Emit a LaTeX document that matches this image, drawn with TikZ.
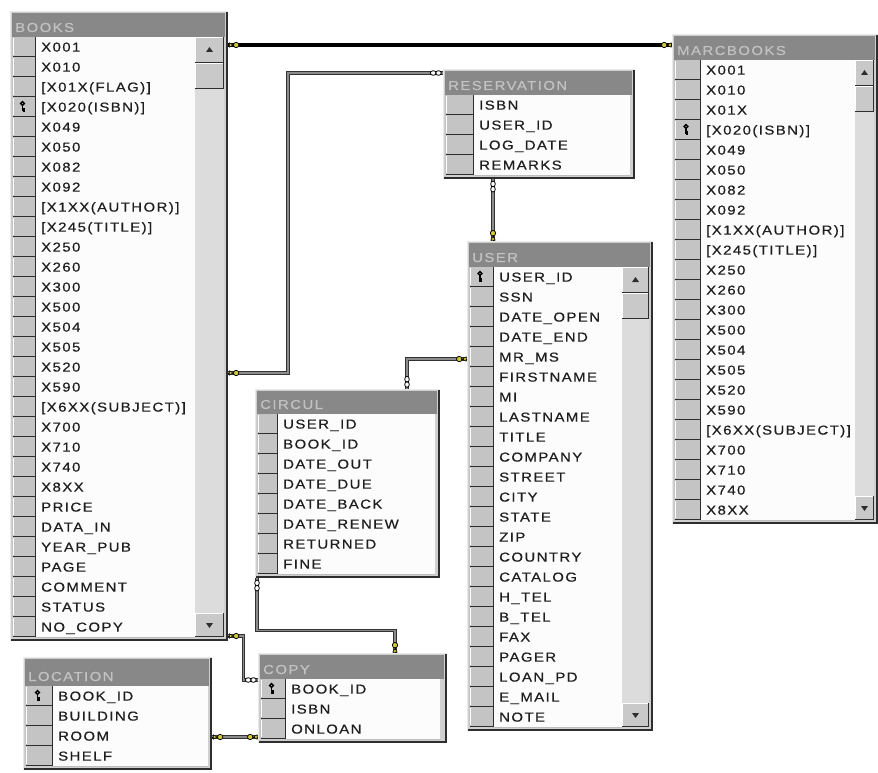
\documentclass[tikz,border=0pt]{standalone}
\usepackage{fontspec}
\setmainfont{Liberation Sans}[FakeStretch=1.15,LetterSpace=11,FakeBold=0.5]
\definecolor{framecol}{HTML}{CFCFCF}
\definecolor{lightedge}{HTML}{EAEAEA}
\definecolor{darkedge}{HTML}{2E2E2E}
\definecolor{titlecol}{HTML}{888888}
\definecolor{ttlcol}{HTML}{C2C2C2}
\definecolor{keycol}{HTML}{C4C4C4}
\definecolor{cellcol}{HTML}{FCFCFC}
\definecolor{sepcol}{HTML}{BDBDBD}
\definecolor{txtcol}{HTML}{1E1E1E}
\definecolor{trackcol}{HTML}{DCDCDC}
\definecolor{btncol}{HTML}{C9C9C9}
\definecolor{lnedge}{HTML}{333333}
\definecolor{lnfill}{HTML}{8C8C8C}
\definecolor{keyyel}{HTML}{CFC838}
\tikzset{
  cell/.style={font=\fontsize{13}{14}\selectfont, text=txtcol, inner sep=0pt, anchor=base west},
  ttl/.style={font=\fontsize{13}{14}\selectfont, text=ttlcol, inner sep=0pt, anchor=base west},
  conn/.style={draw=lnedge, double=lnfill, double distance=1.8pt, line width=1pt},
  blackconn/.style={draw=black, line width=4pt},
  keyend/.pic={
    \draw[black, line width=0.8pt] (0,0) -- (5,0);
    \fill[keyyel, draw=black, line width=0.5pt] (1,-2.2) -- (1,2.2) -- (4.5,0) -- cycle;
    \draw[black, fill=keyyel, line width=0.7pt] (7.8,0) circle (2.7pt);
  },
  infend/.pic={
    \draw[black, fill=white, line width=0.8pt] (4.5,0) ellipse (2.8pt and 2.3pt);
    \draw[black, fill=white, line width=0.8pt] (9.8,0) ellipse (2.8pt and 2.3pt);
  },
  pkglyph/.pic={
    \draw[black, line width=1.3pt] (0,-3) circle (1.9pt);
    \draw[black, line width=1.5pt] (0,-1.2) -- (0,5) (0,2.4) -- (2.2,2.4) (0,4.4) -- (2.2,4.4);
  }
}
% geometry: name, L, T, R, H(title bottom), K(key col right), X(text col right), keyrow, title
\newcommand{\DBtable}[9]{%
  \def\tName{#1}\def\tL{#2}\def\tT{#3}\def\tR{#4}\def\tH{#5}\def\tK{#6}\def\tX{#7}\def\tKey{#8}\def\tTitle{#9}%
  \DBrows}
% rows: nrows, list, scroll flag
\newcommand{\DBrows}[3]{%
  \pgfmathsetmacro\tB{\tH+20*#1+4}%
  \pgfmathsetmacro\tE{\tH+20*#1}%
  \pgfmathsetmacro\tW{\tR-\tL}%
  \pgfmathsetmacro\tHt{\tB-\tT}%
  \node[name=\tName, inner sep=0pt, minimum width=\tW pt, minimum height=\tHt pt, anchor=north west] at (\tL,\tT) {};
  \fill[framecol] (\tL,\tT) rectangle (\tR,\tB);
  \draw[lightedge, line width=1pt] (\tL+0.5,\tB) -- (\tL+0.5,\tT+0.5) -- (\tR,\tT+0.5);
  \draw[darkedge, line width=2pt] (\tL+1,\tB-1) -- (\tR-1,\tB-1) -- (\tR-1,\tT+1);
  \fill[titlecol] (\tL+2,\tT+2) rectangle (\tR-3,\tH);
  \node[ttl, name=\tName-title] at (\tL+5,\tH-5) {\tTitle};
  \foreach \txt [count=\i from 0] in {#2} {
    \pgfmathsetmacro\ya{\tH+20*\i}
    \fill[keycol] (\tL+2,\ya) rectangle (\tK,\ya+20);
    \fill[cellcol] (\tK,\ya) rectangle (\tX,\ya+20);
    \draw[sepcol, line width=0.8pt] (\tK,\ya+20) -- (\tX,\ya+20);
    \draw[darkedge, line width=1pt] (\tL+3,\ya+19.5) -- (\tK,\ya+19.5);
    \draw[white, line width=0.6pt] (\tL+3,\ya+0.8) -- (\tL+3,\ya+18);
    \node[cell, name=\tName-\i] at (\tK+6,\ya+14.6) {\txt};
    \ifnum\i=\tKey \path ({(\tL+\tK)/2},\ya+9.5) pic {pkglyph}; \fi
  }
  \draw[darkedge, line width=1pt] (\tK,\tH) -- (\tK,\tE);
  \ifnum#3=1
    \fill[trackcol] (\tX,\tH) rectangle (\tR-4,\tE);
    \foreach \ba/\bb in {\tH/\tH+26, \tH+26/\tH+52, \tE-24/\tE} {
      \fill[btncol] (\tX,\ba) rectangle (\tR-4,\bb);
      \draw[white, line width=0.8pt] (\tX+0.5,\bb) -- (\tX+0.5,\ba+0.5) -- (\tR-4,\ba+0.5);
      \draw[darkedge, line width=1pt] (\tX,\bb-0.5) -- (\tR-4.5,\bb-0.5) -- (\tR-4.5,\ba);
    }
    \pgfmathsetmacro\cx{(\tX+\tR-4)/2}
    \fill[darkedge] (\cx-3.5,\tH+15) -- (\cx+3.5,\tH+15) -- (\cx,\tH+10) -- cycle;
    \fill[darkedge] (\cx-3.5,\tE-14) -- (\cx+3.5,\tE-14) -- (\cx,\tE-9) -- cycle;
  \fi
}
\begin{document}
\begin{tikzpicture}[x=1pt,y=-1pt]
\useasboundingbox[fill=white] (0,0) rectangle (878,773);

\DBtable{books}{10}{11}{228}{37}{35}{195}{3}{BOOKS}{30}{X001,X010,{[X01X(FLAG)]},{[X020(ISBN)]},X049,X050,X082,X092,{[X1XX(AUTHOR)]},{[X245(TITLE)]},X250,X260,X300,X500,X504,X505,X520,X590,{[X6XX(SUBJECT)]},X700,X710,X740,X8XX,PRICE,DATA\_IN,YEAR\_PUB,PAGE,COMMENT,STATUS,NO\_COPY}{1}

\DBtable{marc}{672}{34}{878}{60}{700}{855}{3}{MARCBOOKS}{23}{X001,X010,X01X,{[X020(ISBN)]},X049,X050,X082,X092,{[X1XX(AUTHOR)]},{[X245(TITLE)]},X250,X260,X300,X500,X504,X505,X520,X590,{[X6XX(SUBJECT)]},X700,X710,X740,X8XX}{1}

\DBtable{res}{443}{69}{635}{95}{473}{630}{-1}{RESERVATION}{4}{ISBN,USER\_ID,LOG\_DATE,REMARKS}{0}

\DBtable{user}{467}{241}{653}{267}{493}{622}{0}{USER}{23}{USER\_ID,SSN,DATE\_OPEN,DATE\_END,MR\_MS,FIRSTNAME,MI,LASTNAME,TITLE,COMPANY,STREET,CITY,STATE,ZIP,COUNTRY,CATALOG,H\_TEL,B\_TEL,FAX,PAGER,LOAN\_PD,E\_MAIL,NOTE}{1}

\DBtable{circul}{255}{389}{440}{414}{277}{435}{-1}{CIRCUL}{8}{USER\_ID,BOOK\_ID,DATE\_OUT,DATE\_DUE,DATE\_BACK,DATE\_RENEW,RETURNED,FINE}{0}

\DBtable{location}{23}{657}{212}{686}{52}{208}{0}{LOCATION}{4}{BOOK\_ID,BUILDING,ROOM,SHELF}{0}

\DBtable{copy}{258}{653}{447}{679}{285}{440}{0}{COPY}{3}{BOOK\_ID,ISBN,ONLOAN}{0}

% connectors
\draw[blackconn] (books.east |- 0,45) -- (marc.west |- 0,45);
\draw[conn] (res.west |- 0,73) -- ++(-155,0) |- (books.east |- 0,373);
\draw[conn] (res.south -| 493,0) -- (user.north -| 493,0);
\draw[conn] (circul.north -| 407,0) |- (user.west |- 0,359);
\draw[conn] (circul.south -| 257,0) -- ++(0,52) -| (copy.north -| 395,0);
\draw[conn] (books.east |- 0,636) -- ++(15,0) |- (copy.west |- 0,680);
\draw[conn] (location.east |- 0,737) -- (copy.west |- 0,737);

% end symbols
\path (books.east |- 0,45) pic {keyend};
\path (marc.west |- 0,45) pic[rotate=180] {keyend};
\path (res.west |- 0,73) pic[rotate=180] {infend};
\path (books.east |- 0,373) pic {keyend};
\path (res.south -| 493,0) pic[rotate=-90] {infend};
\path (user.north -| 493,0) pic[rotate=90] {keyend};
\path (circul.north -| 407,0) pic[rotate=90] {infend};
\path (user.west |- 0,359) pic[rotate=180] {keyend};
\path (circul.south -| 257,0) pic[rotate=-90] {infend};
\path (copy.north -| 395,0) pic[rotate=90] {keyend};
\path (books.east |- 0,636) pic {keyend};
\path (copy.west |- 0,680) pic[rotate=180] {infend};
\path (location.east |- 0,737) pic {keyend};
\path (copy.west |- 0,737) pic[rotate=180] {keyend};
\end{tikzpicture}
\end{document}
